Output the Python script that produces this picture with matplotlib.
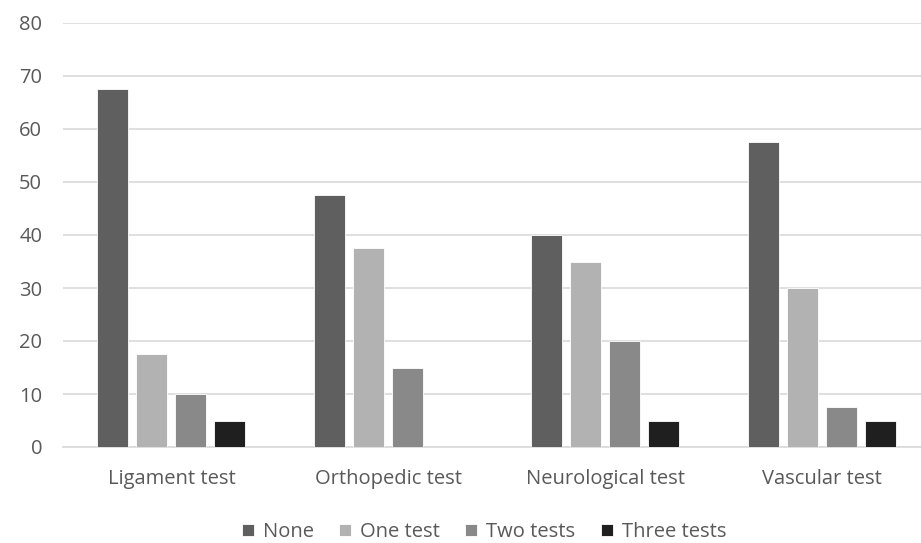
import numpy as np
import matplotlib
matplotlib.use("Agg")
import matplotlib.pyplot as plt

categorias = ["Ligament test", "Orthopedic test", "Neurological test", "Vascular test"]
series = ["None", "One test", "Two tests", "Three tests"]
none_vals = [67.5, 47.5, 40, 57.5]
one_vals = [17.5, 37.5, 35, 30]
two_vals = [10, 15, 20, 7.5]
three_vals = [5, 0, 5, 5]
colores = ["#5f5f5f", "#b2b2b2", "#898989", "#1f1f1f"]

plt.rcParams['font.family'] = ['Open Sans', 'DejaVu Sans']

fig = plt.figure(figsize=(9.21, 5.43), dpi=100)
ax = fig.add_axes([63 / 921, 1 - 447 / 543, 858 / 921, (447 - 23) / 543])

x = np.arange(len(categorias))
ancho = 0.143
paso = 0.18
valores = [none_vals, one_vals, two_vals, three_vals]
for i, (nombre, vals) in enumerate(zip(series, valores)):
    ax.bar(x + (i - 1.5) * paso, vals, width=ancho, color=colores[i],
           label=nombre, zorder=3, edgecolor="white", linewidth=0.6)

ax.set_ylim(0, 80)
ax.set_yticks(range(0, 81, 10))
ax.set_xlim(-0.5, 3 + (921 - 822) / 216.8)
ax.set_xticks(x)
ax.set_xticklabels(categorias)
ax.grid(axis="y", color="#d9d9d9", linewidth=1.2, zorder=0)
for lado in ["top", "right", "left"]:
    ax.spines[lado].set_visible(False)
ax.spines["bottom"].set_color("#d9d9d9")
ax.spines["bottom"].set_linewidth(1.2)
ax.tick_params(axis="both", length=0, labelsize=14.5, colors="#595959")
ax.tick_params(axis="y", pad=15)
ax.tick_params(axis="x", pad=16)

fig.legend(loc="center", bbox_to_anchor=(484 / 921, 1 - 532 / 543), ncol=4, frameon=False,
           fontsize=14.5, labelcolor="#595959", handlelength=0.6, handleheight=0.6,
           handletextpad=0.45, columnspacing=1.25)

plt.savefig("out.png", dpi=100)
